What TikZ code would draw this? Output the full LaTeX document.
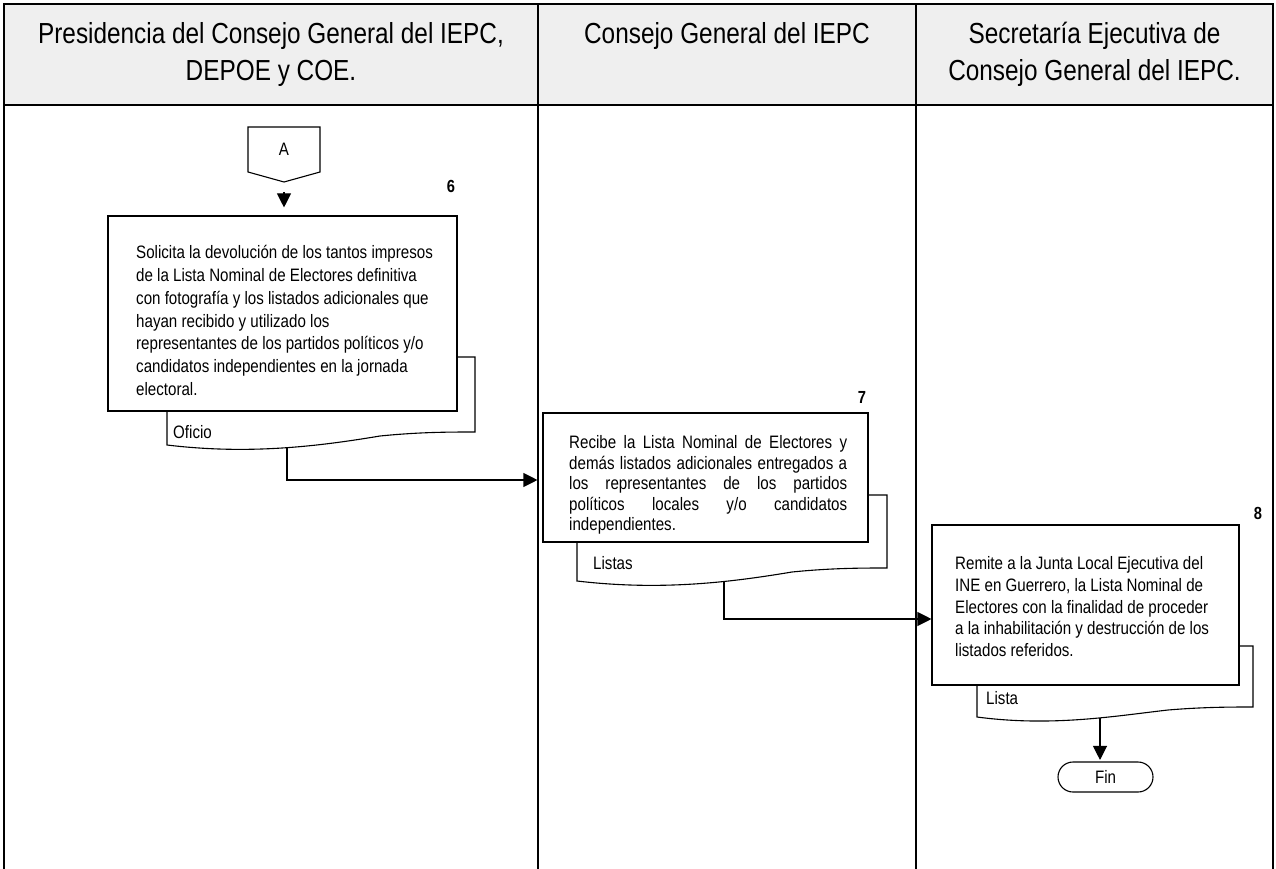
\documentclass[tikz,border=0pt]{standalone}
\usepackage{fontspec}
\setmainfont[FakeStretch=0.84]{Liberation Sans}
\usetikzlibrary{arrows.meta,calc}
\definecolor{hdr}{RGB}{239,239,239}
\begin{document}
\begin{tikzpicture}[x=1pt,y=-1pt,
  frameline/.style={line width=2pt,black},
  box/.style={draw,line width=1.1pt,fill=white,inner sep=0pt},
  doc/.style={draw,line width=1.1pt,fill=white},
  arr/.style={line width=1.1pt,-{Triangle[length=14pt,width=14pt]}},
  txt/.style={inner sep=0pt,align=left,anchor=north west},
  num/.style={font=\fontsize{17.5}{17.5}\selectfont\bfseries,inner sep=0pt},
  lab/.style={font=\fontsize{18}{18}\selectfont,inner sep=0pt,anchor=west},
  head/.style={font=\fontsize{29}{37}\selectfont,align=center,inner sep=0pt,anchor=north}]
\useasboundingbox (0,0) rectangle (1276,869);

% header band and frame
\fill[hdr] (4,4) rectangle (1273,105);
\draw[frameline] (4,105) -- (1273,105);
\draw[line width=2.5pt] (3,4) -- (1274,4);
\draw[frameline] (4,4) -- (4,869);
\draw[frameline] (538,4) -- (538,869);
\draw[frameline] (916,4) -- (916,869);
\draw[frameline] (1273,4) -- (1273,869);

\node[head] (h1) at (271,22.3) {Presidencia del Consejo General del IEPC,\\DEPOE y COE.};
\node[head] (h2) at (727,22.3) {Consejo General del IEPC};
\node[head] (h3) at (1094.5,22.3) {Secretaría Ejecutiva de\\Consejo General del IEPC.};

% off-page connector A
\draw[line width=1.1pt] (248,127) -- (320,127) -- (320,172) -- (284,182) -- (248,172) -- cycle;
\node[font=\fontsize{18}{18}\selectfont,inner sep=0pt] (A) at (284,149) {A};
\coordinate (Ap) at (284,182);

% step 6
\node[num] (n6) at (451,186) {6};
\draw[doc] (167,445) -- (167,357) -- (475,357) -- (475,432)
  .. controls (450,432) and (420,432) .. (380,436)
  .. controls (320,446) and (250,455) .. (167,445) -- cycle;
\coordinate (d1b) at (287,448);
\node[lab] (l1) at (173,432) {Oficio};
\node[box,minimum width=349pt,minimum height=195pt] (b1) at (282.5,313.5) {};
\node[txt,font=\fontsize{18}{22.7}\selectfont] (t1) at (136,245.5)
 {Solicita la devolución de los tantos impresos\\
  de la Lista Nominal de Electores definitiva\\
  con fotografía y los listados adicionales que\\
  hayan recibido y utilizado los\\
  representantes de los partidos políticos y/o\\
  candidatos independientes en la jornada\\
  electoral.};

% step 7
\node[num] (n7) at (862,397) {7};
\draw[doc] (577,581) -- (577,495) -- (887,495) -- (887,568)
  .. controls (862,568) and (832,568) .. (792,572)
  .. controls (732,582) and (662,591) .. (577,581) -- cycle;
\coordinate (d2b) at (724,581.5);
\node[lab] (l2) at (593,563) {Listas};
\node[box,minimum width=325pt,minimum height=129pt] (b2) at (705.5,477.5) {};
\node[txt,font=\fontsize{18}{20.5}\selectfont] (t2) at (569,435.5)
 {\makebox[278pt][s]{Recibe la Lista Nominal de Electores y}\\
  \makebox[278pt][s]{demás listados adicionales entregados a}\\
  \makebox[278pt][s]{los representantes de los partidos}\\
  \makebox[278pt][s]{políticos locales y/o candidatos}\\
  independientes.};

% step 8
\node[num] (n8) at (1258,513) {8};
\draw[doc] (977,717) -- (977,646) -- (1253,646) -- (1253,707)
  .. controls (1231,707) and (1204,707) .. (1168,710)
  .. controls (1115,716) and (1052,727) .. (977,717) -- cycle;
\coordinate (d3b) at (1100,718);
\node[lab] (l3) at (986,698) {Lista};
\node[box,minimum width=307pt,minimum height=160pt] (b3) at (1085.5,605) {};
\node[txt,font=\fontsize{18}{21.7}\selectfont] (t3) at (955,556.5)
 {Remite a la Junta Local Ejecutiva del\\
  INE en Guerrero, la Lista Nominal de\\
  Electores con la finalidad de proceder\\
  a la inhabilitación y destrucción de los\\
  listados referidos.};

% terminator
\node[draw,line width=1.1pt,rounded corners=15pt,minimum width=95pt,minimum height=30pt,
      inner sep=0pt,font=\fontsize{18}{18}\selectfont] (fin) at (1105.5,777) {Fin};

% connectors
\coordinate (hy1) at (0,480);
\coordinate (hy2) at (0,619);
\draw[arr,shorten <=10pt,shorten >=8pt] (Ap) -- (Ap |- b1.north);
\draw[arr,shorten >=5pt] (d1b) |- (b2.west |- hy1);
\draw[arr] (d2b) |- (b3.west |- hy2);
\draw[arr,shorten >=1.5pt] (d3b) -- (d3b |- fin.north);
\end{tikzpicture}
\end{document}
